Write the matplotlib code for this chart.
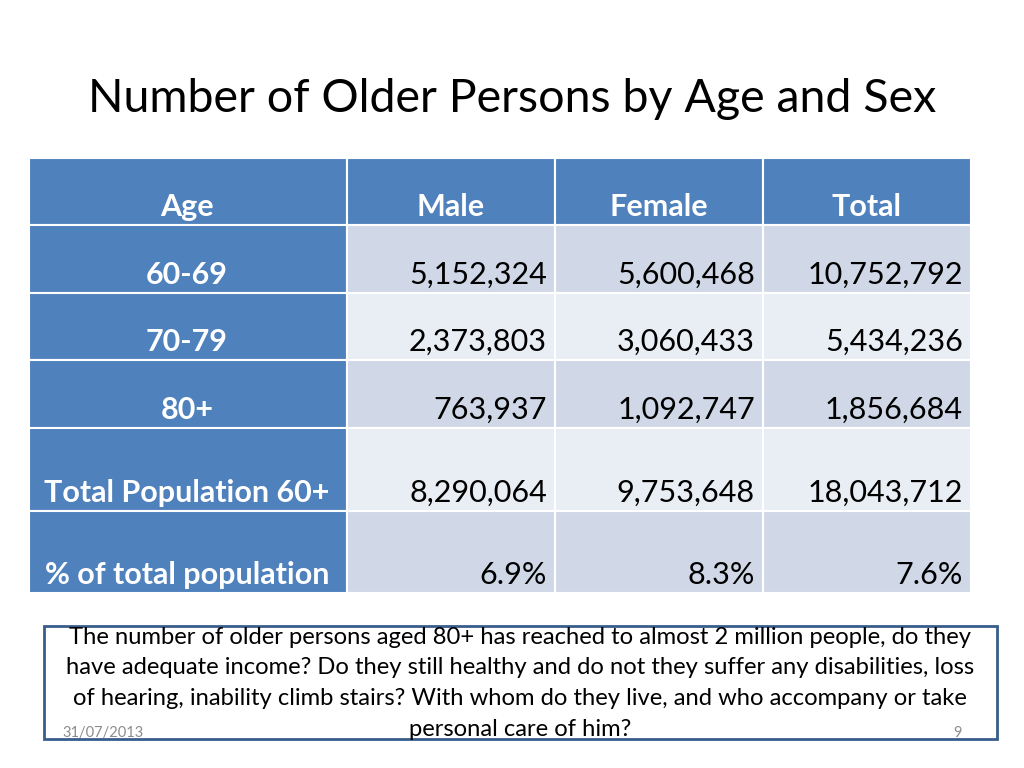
import matplotlib
matplotlib.use("Agg")
import matplotlib.pyplot as plt
from matplotlib.patches import Rectangle

plt.rcParams['font.family'] = ['Lato', 'DejaVu Sans']

title = "Number of Older Persons by Age and Sex"
headers = ["Age", "Male", "Female", "Total"]
row_labels = ["60-69", "70-79", "80+", "Total Population 60+", "% of total population"]
male = [5152324, 2373803, 763937, 8290064]
female = [5600468, 3060433, 1092747, 9753648]
total = [10752792, 5434236, 1856684, 18043712]
pct = [6.9, 8.3, 7.6]
note_lines = [
    "The number of older persons aged 80+ has reached to almost 2 million people, do they",
    "have adequate income? Do they still healthy and do not they suffer any disabilities, loss",
    "of hearing, inability climb stairs? With whom do they live, and who accompany or take",
    "personal care of him?",
]
date_text = "31/07/2013"
page_no = "9"

fig = plt.figure(figsize=(10.24, 7.68), dpi=100)
ax = fig.add_axes([0, 0, 1, 1])
ax.set_xlim(0, 1024)
ax.set_ylim(768, 0)
ax.axis('off')

blue = "#4F81BD"
dark = "#D0D8E8"
light = "#E9EDF4"

ax.text(512, 112, title, ha='center', va='baseline', fontsize=33.5, color='#000000')

col_x = [29, 347, 555, 763, 971]
row_y = [158, 225, 293, 360, 428, 511, 593]

# build cells
rows = [headers]
for i in range(3):
    rows.append([row_labels[i], f"{male[i]:,}", f"{female[i]:,}", f"{total[i]:,}"])
rows.append([row_labels[3], f"{male[3]:,}", f"{female[3]:,}", f"{total[3]:,}"])
rows.append([row_labels[4]] + [f"{p}%" for p in pct])

for r in range(len(rows)):
    y0, y1 = row_y[r], row_y[r + 1]
    for c in range(4):
        x0, x1 = col_x[c], col_x[c + 1]
        if r == 0 or c == 0:
            fc = blue
        else:
            fc = dark if r % 2 == 1 else light
        ax.add_patch(Rectangle((x0, y0), x1 - x0, y1 - y0, facecolor=fc,
                               edgecolor='white', linewidth=1.5))
        txt = rows[r][c]
        ty = y1 - 9
        if r == 0 or c == 0:
            cx = (x0 + x1) / 2 if c else 187
            ax.text(cx, ty, txt, ha='center', va='baseline',
                    fontsize=22, color='white', fontweight='bold')
        else:
            ax.text(x1 - 8, ty, txt, ha='right', va='baseline', fontsize=22, color='black')

# note box
ax.add_patch(Rectangle((44, 626), 953, 113, facecolor='white', edgecolor='#385D8A',
                       linewidth=2, zorder=3))
for i, line in enumerate(note_lines):
    ax.text(520, 637 + 30.7 * i, line, ha='center', va='center', fontsize=17.1,
            color='black', zorder=4)
ax.text(62, 733, date_text, ha='left', va='center', fontsize=10.5, color='#8C8C8C', zorder=4)
ax.text(962, 733, page_no, ha='right', va='center', fontsize=10.5, color='#8C8C8C', zorder=4)

fig.savefig("out.png", dpi=100)
